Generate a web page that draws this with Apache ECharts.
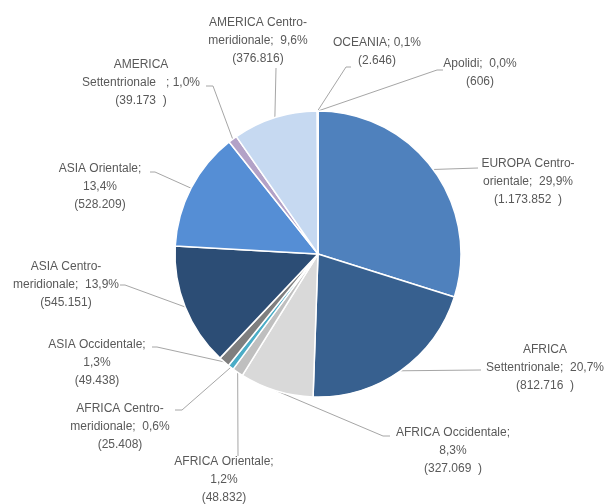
<!DOCTYPE html>
<html>
<head>
<meta charset="utf-8">
<script src="https://cdn.jsdelivr.net/npm/echarts@6/dist/echarts.min.js"></script>
<style>
html,body{margin:0;padding:0;background:#fff;}
#chart{width:606px;height:504px;}
</style>
</head>
<body>
<div id="chart"></div>
<script>
// ---- data ----
var categories = [
  "EUROPA Centro-orientale", "AFRICA Settentrionale", "AFRICA Occidentale",
  "AFRICA Orientale", "AFRICA Centro-meridionale", "ASIA Occidentale",
  "ASIA Centro-meridionale", "ASIA Orientale", "AMERICA Settentrionale",
  "AMERICA Centro-meridionale", "OCEANIA", "Apolidi"
];
var values = [1173852, 812716, 327069, 48832, 25408, 49438, 545151, 528209, 39173, 376816, 2646, 606];
// label text as printed (line breaks / spacing as in the picture)
var labelHead = [
  "EUROPA Centro-\norientale;  ", "AFRICA\nSettentrionale;  ", "AFRICA Occidentale;\n",
  "AFRICA Orientale;\n", "AFRICA Centro-\nmeridionale;  ", "ASIA Occidentale;\n",
  "ASIA Centro-\nmeridionale;  ", "ASIA Orientale;\n", "AMERICA\nSettentrionale   ; ",
  "AMERICA Centro-\nmeridionale;  ", "OCEANIA; ", "Apolidi;  "
];
var labelTail = ["  )", "  )", "  )", ")", ")", ")", ")", ")", "  )", ")", ")", ")"];

// ---- styling / layout ----
var colors = ["#4f81bd", "#37608f", "#d9d9d9", "#bfbfbf", "#4bacc6", "#7f7f7f",
              "#2c4d75", "#558ed5", "#b3a2c7", "#c6d9f1", "#1f497d", "#8064a2"];
// label centre and leader-line end points
var labelPlace = [
  {c:[528,182], pts:[[478,168]]},
  {c:[545,368], pts:[[481,370]]},
  {c:[453,451], pts:[[383,436],[390,436]]},
  {c:[224,480], pts:[[238,456]]},
  {c:[120,427], pts:[[182,410],[175,410]]},
  {c:[97,363],  pts:[[157,347],[152,347]]},
  {c:[66,285],  pts:[[125,285],[120,285]]},
  {c:[100,187], pts:[[155,172],[150,172]]},
  {c:[141,83],  pts:[[213,86],[206,86]]},
  {c:[258,41],  pts:[[276,68]]},
  {c:[377,52],  pts:[[346,67],[351,67]]},
  {c:[480,73],  pts:[[437,70],[443,70]]}
];

var total = values.reduce(function(a,b){return a+b;},0);
function fmtInt(v){ return String(v).replace(/\B(?=(\d{3})+(?!\d))/g, "."); }
function fmtPct(v){ return (v/total*100).toFixed(1).replace(".", ",") + "%"; }

var data = categories.map(function(n,i){
  return {name:n, value:values[i], itemStyle:{color:colors[i]}};
});

var chart = echarts.init(document.getElementById('chart'), null, {renderer:'canvas'});
chart.setOption({
  backgroundColor:'#ffffff',
  animation:false,
  series:[{
    type:'pie',
    center:[318,254],
    radius:[0,143],
    startAngle:90,
    clockwise:true,
    minAngle:0,
    avoidLabelOverlap:false,
    data:data,
    itemStyle:{borderColor:'#ffffff', borderWidth:1.5},
    label:{
      show:true,
      position:'outside',
      fontFamily:'Liberation Sans, Arial, sans-serif',
      fontSize:12,
      lineHeight:18,
      color:'#595959',
      align:'center',
      formatter:function(p){
        var i=p.dataIndex;
        return labelHead[i] + fmtPct(values[i]) + "\n(" + fmtInt(values[i]) + labelTail[i];
      }
    },
    labelLine:{show:true, length:10, length2:10, smooth:false,
      lineStyle:{color:'#a6a6a6', width:1}},
    labelLayout:function(params){
      var lp = labelPlace[params.dataIndex];
      var start = params.labelLinePoints ? params.labelLinePoints[0] : lp.pts[0];
      var pts = [start].concat(lp.pts);
      if (pts.length === 2) pts.push(lp.pts[0]);
      return {x:lp.c[0], y:lp.c[1], align:'center', verticalAlign:'middle', labelLinePoints:pts};
    }
  }]
});
</script>
</body>
</html>
